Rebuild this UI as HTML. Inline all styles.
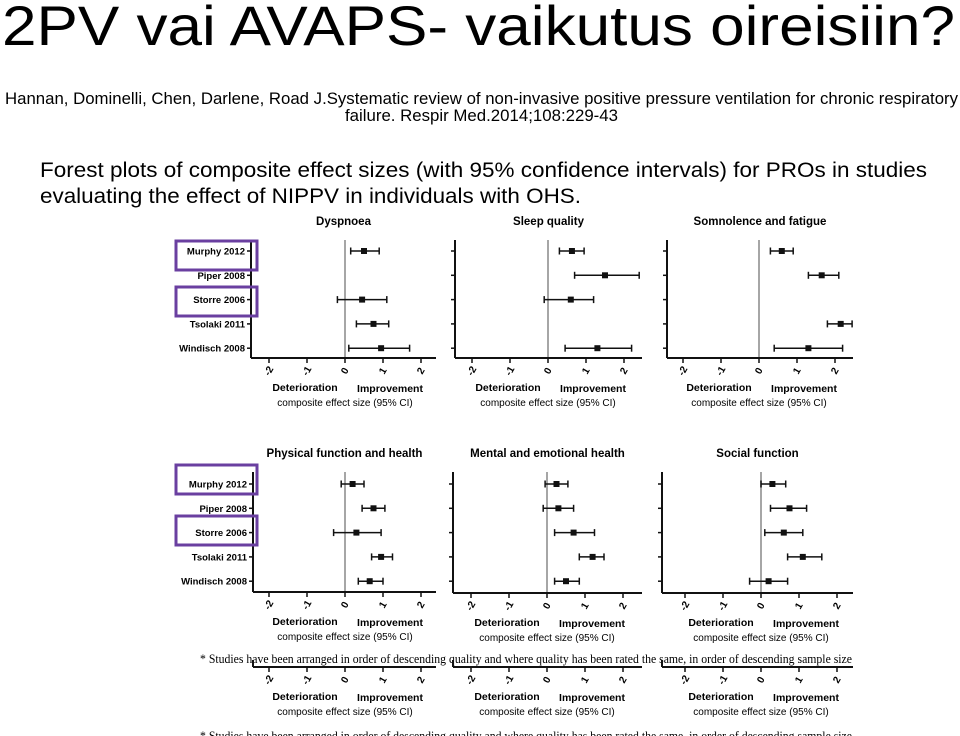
<!DOCTYPE html>
<html><head><meta charset="utf-8"><style>
html,body{margin:0;padding:0;background:#fff;width:960px;height:736px;overflow:hidden}
svg{display:block;font-family:"Liberation Sans",sans-serif}
</style></head><body>
<svg id="s" width="960" height="736" viewBox="0 0 960 736">
<text x="2" y="45" font-size="56" textLength="953" lengthAdjust="spacingAndGlyphs">2PV vai AVAPS- vaikutus oireisiin?</text>
<text x="5" y="104" font-size="16.5" textLength="953" lengthAdjust="spacingAndGlyphs">Hannan, Dominelli, Chen, Darlene, Road J.Systematic review of non-invasive positive pressure ventilation for chronic respiratory</text>
<text x="345" y="121" font-size="16.5" textLength="273" lengthAdjust="spacingAndGlyphs">failure. Respir Med.2014;108:229-43</text>
<text x="40" y="177" font-size="21" textLength="887" lengthAdjust="spacingAndGlyphs">Forest plots of composite effect sizes (with 95% confidence intervals) for PROs in studies</text>
<text x="40" y="203" font-size="21" textLength="541" lengthAdjust="spacingAndGlyphs">evaluating the effect of NIPPV in individuals with OHS.</text>
<text x="200" y="663" font-family="Liberation Serif,serif" font-size="12.5" textLength="652" lengthAdjust="spacingAndGlyphs">* Studies have been arranged in order of descending quality and where quality has been rated the same, in order of descending sample size</text>
<text x="200" y="740" font-family="Liberation Serif,serif" font-size="12.5" textLength="652" lengthAdjust="spacingAndGlyphs">* Studies have been arranged in order of descending quality and where quality has been rated the same, in order of descending sample size</text>
</svg>
<script>
const studies = ["Murphy 2012","Piper 2008","Storre 2006","Tsolaki 2011","Windisch 2008"];
const ticks = [-2,-1,0,1,2];
const titles = ["Dyspnoea","Sleep quality","Somnolence and fatigue","Physical function and health","Mental and emotional health","Social function"];
// [estimate, lower, upper] per study; null = not reported
const dyspnoea = [[0.5,0.15,0.9],null,[0.45,-0.2,1.1],[0.75,0.3,1.15],[0.95,0.1,1.7]];
const sleepQuality = [[0.63,0.3,0.95],[1.5,0.7,2.4],[0.6,-0.1,1.2],null,[1.3,0.45,2.2]];
const somnolence = [[0.6,0.3,0.9],[1.65,1.3,2.1],null,[2.15,1.8,2.45],[1.3,0.4,2.2]];
const physical = [[0.2,-0.1,0.5],[0.75,0.45,1.05],[0.3,-0.3,0.95],[0.95,0.7,1.25],[0.65,0.35,1.0]];
const mental = [[0.25,-0.05,0.55],[0.3,-0.1,0.7],[0.7,0.2,1.25],[1.2,0.85,1.5],[0.5,0.2,0.85]];
const social = [[0.3,0,0.65],[0.75,0.25,1.2],[0.6,0.1,1.1],[1.1,0.7,1.6],[0.2,-0.3,0.7]];
const series = [dyspnoea,sleepQuality,somnolence,physical,mental,social];

const svg=document.getElementById('s');const NS='http://www.w3.org/2000/svg';
function mk(tag,attrs,parent){const e=document.createElementNS(NS,tag);for(const k in attrs)e.setAttribute(k,attrs[k]);(parent||svg).appendChild(e);return e;}
const panels=[
 {ax:251,zero:345,top:240,base:358,right:436,rowY:251},
 {ax:455,zero:548,top:240,base:358,right:642,rowY:251},
 {ax:667,zero:759,top:240,base:358,right:853,rowY:251},
 {ax:253,zero:345,top:472,base:592,right:436,rowY:484},
 {ax:453,zero:547,top:472,base:593,right:642,rowY:484},
 {ax:662,zero:761,top:472,base:593,right:853,rowY:484}];
const unit=38, rowGap=24.3;
function xs(p,v){return p.zero+v*unit;}
function drawAxisBlock(p,base,g){
  mk('line',{x1:p.ax,y1:base,x2:p.right,y2:base,stroke:'#111','stroke-width':2},g);
  ticks.forEach(t=>{const x=xs(p,t);
    mk('line',{x1:x,y1:base,x2:x,y2:base+5,stroke:'#111','stroke-width':1.5},g);
    const tx=mk('text',{x:x,y:base+16,'font-size':10,'font-weight':'bold','text-anchor':'middle',transform:`rotate(-60 ${x} ${base+13})`},g);
    
    
    tx.textContent=String(t);});
  const a=mk('text',{x:p.zero-40,y:base+33,'font-size':10.5,'font-weight':'bold','text-anchor':'middle'},g);
  
  
  a.textContent='Deterioration';
  const b=mk('text',{x:p.zero+45,y:base+34,'font-size':10.5,'font-weight':'bold','text-anchor':'middle'},g);
  
  
  b.textContent='Improvement';
  const c=mk('text',{x:p.zero,y:base+48,'font-size':10,'text-anchor':'middle'},g);
  
  
  c.textContent='composite effect size (95% CI)';
}
panels.forEach((p,i)=>{
  const g=mk('g',{});
  
  
  const t=mk('text',{x:(p.ax+p.right)/2,y:p.top-15,'font-size':11.5,'font-weight':'bold','text-anchor':'middle'},g);
  
  
  t.textContent=titles[i];
  mk('line',{x1:p.ax,y1:p.top,x2:p.ax,y2:p.base,stroke:'#111','stroke-width':2},g);
  mk('line',{x1:xs(p,0),y1:p.top,x2:xs(p,0),y2:p.base,stroke:'#888','stroke-width':1.5},g);
  studies.forEach((s,j)=>{
    const y=p.rowY+j*rowGap;
    mk('line',{x1:p.ax-4,y1:y,x2:p.ax,y2:y,stroke:'#111','stroke-width':1.5},g);
    if(i%3===0){
      const l=mk('text',{x:p.ax-6,y:y+3.5,'font-size':9.5,'font-weight':'bold','text-anchor':'end'},g);
      
      
      l.textContent=s;
    }
    const d=series[i][j]; if(!d) return;
    const e=mk('g',{},g);
    
    
    mk('line',{x1:xs(p,d[1]),y1:y,x2:xs(p,d[2]),y2:y,stroke:'#111','stroke-width':1.5},e);
    mk('line',{x1:xs(p,d[1]),y1:y-3.5,x2:xs(p,d[1]),y2:y+3.5,stroke:'#111','stroke-width':1.5},e);
    mk('line',{x1:xs(p,d[2]),y1:y-3.5,x2:xs(p,d[2]),y2:y+3.5,stroke:'#111','stroke-width':1.5},e);
    mk('rect',{x:xs(p,d[0])-3,y:y-3,width:6,height:6,fill:'#111'},e);
  });
  drawAxisBlock(p,p.base,g);
  if(i>=3){
    const g2=mk('g',{});
    
    
    drawAxisBlock(p,667,g2);
    mk('line',{x1:p.ax,y1:660,x2:p.ax,y2:667,stroke:'#111','stroke-width':2},g2);
  }
});
[[176,241],[176,287],[176,465],[176,516]].forEach((b,k)=>{
  const r=mk('rect',{x:b[0],y:b[1],width:81,height:29,fill:'none',stroke:'#6a3fa0','stroke-width':3});
  
  
});
</script>
</body></html>
